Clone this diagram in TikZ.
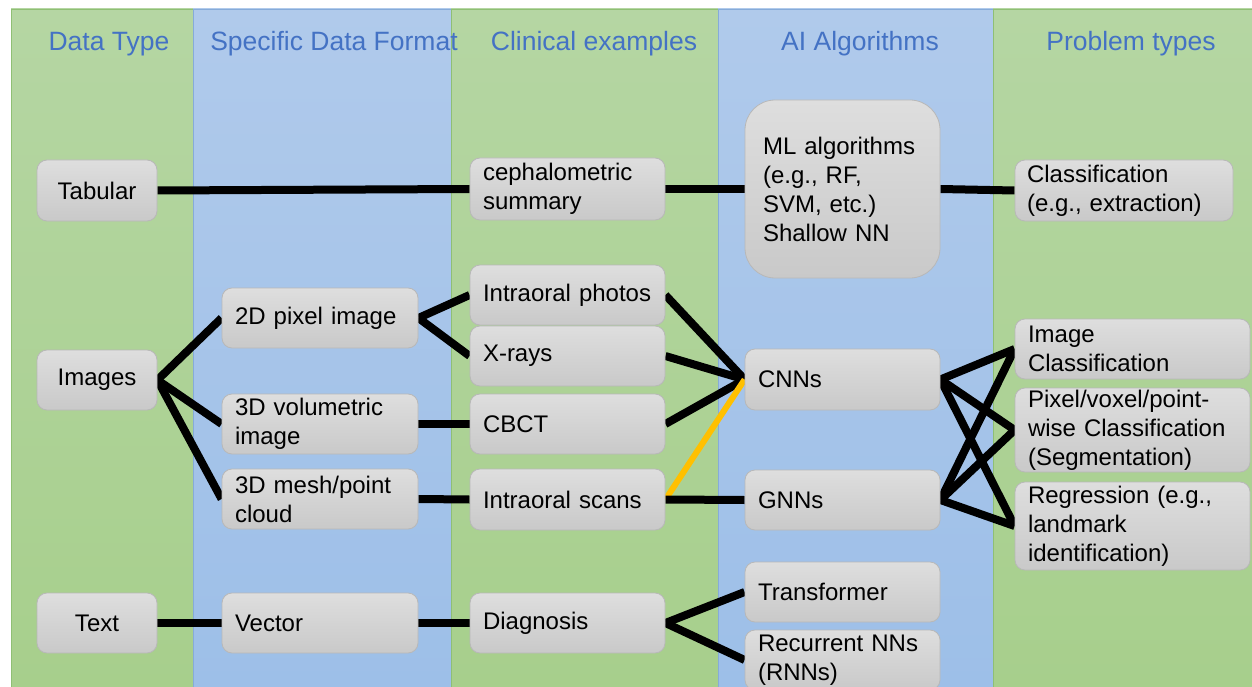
\documentclass[tikz,border=0pt]{standalone}
\usepackage{fontspec}
\setmainfont{Liberation Sans}
\pgfdeclarelayer{bg}
\pgfdeclarelayer{lines}
\pgfsetlayers{bg,lines,main}
\definecolor{gtop}{HTML}{B5D6A3}
\definecolor{gbot}{HTML}{A7CF8C}
\definecolor{gedge}{HTML}{8FBF74}
\definecolor{btop}{HTML}{B0CAEB}
\definecolor{bbot}{HTML}{9DBFE8}
\definecolor{bedge}{HTML}{86ABD9}
\definecolor{hdr}{HTML}{4472C4}
\definecolor{boxtop}{HTML}{DEDEDE}
\definecolor{boxbot}{HTML}{C9C9C9}
\definecolor{boxedge}{HTML}{B8B8B8}
\definecolor{orangeline}{HTML}{FFC000}
\newcommand{\nodefont}{\fontsize{24}{29}\selectfont}
\newcommand{\hdrfont}{\fontsize{26.5}{30}\selectfont}
\tikzset{
 colgreen/.style={top color=gtop,bottom color=gbot,draw=gedge,line width=0.6pt},
 colblue/.style={top color=btop,bottom color=bbot,draw=bedge,line width=0.6pt},
 header/.style={text=hdr,font=\hdrfont,anchor=base,inner sep=0pt},
 box/.style={draw=boxedge,line width=0.8pt,rounded corners=10pt,top color=boxtop,bottom color=boxbot,font=\nodefont,text=black,inner ysep=0pt,inner xsep=13pt,align=left,minimum height=60pt},
 cA/.style={box,text width=94pt,align=center},
 cB/.style={box,text width=170pt},
 cC/.style={box,text width=169pt},
 cD/.style={box,text width=209pt},
 link/.style={line width=8pt,black},
 hilink/.style={line width=6pt,orangeline},
}
\begin{document}
\begin{tikzpicture}[x=1pt,y=-1pt]
\useasboundingbox (0,0) rectangle (1252,687);
\clip (0,0) rectangle (1252,687);
\begin{pgfonlayer}{bg}
\fill[white] (0,0) rectangle (1252,687);
\path[colgreen] (11,9) rectangle (193,688);
\path[colblue] (193,9) rectangle (451,688);
\path[colgreen] (451,9) rectangle (718,688);
\path[colblue] (718,9) rectangle (993,688);
\path[colgreen] (993,9) rectangle (1253,688);
\end{pgfonlayer}
% headers
\node[header] (h1) at (109,51) {Data Type};
\node[header] (h2) at (334,51) {Specific Data Format};
\node[header] (h3) at (594,51) {Clinical examples};
\node[header] (h4) at (860,51) {AI Algorithms};
\node[header] (h5) at (1131,51) {Problem types};
% column 1
\node[cA,minimum height=61pt] (tab) at (97,190.5) {Tabular};
\node[cA] (img) at (97,380) {Images};
\node[cA] (txt) at (97,623) {Text};
% column 2
\node[cB] (px2d) at (320,318) {2D pixel image};
\node[cB] (vol3d) at (320,424) {3D volumetric\\image};
\node[cB] (mesh3d) at (320,499) {3D mesh/point\\cloud};
\node[cB] (vec) at (320,623) {Vector};
% column 3
\node[cC,minimum height=62pt] (ceph) at (567.5,189) {cephalometric\\summary};
\node[cC] (photos) at (567.5,295) {Intraoral photos};
\node[cC] (xray) at (567.5,356) {X-rays};
\node[cC] (cbct) at (567.5,424) {CBCT};
\node[cC,minimum height=61pt] (scans) at (567.5,499.5) {Intraoral scans};
\node[cC] (diag) at (567.5,623) {Diagnosis};
% column 4
\node[box,text width=159pt,inner xsep=18pt,minimum height=178pt,rounded corners=30pt] (ml) at (842.5,189) {ML algorithms\\(e.g., RF,\\SVM, etc.)\\Shallow NN};
\node[cC,minimum height=61pt] (cnn) at (842.5,379.5) {CNNs};
\node[cC] (gnn) at (842.5,500) {GNNs};
\node[cC] (trans) at (842.5,592) {Transformer};
\node[cC] (rnn) at (842.5,660) {Recurrent NNs\\(RNNs)};
% column 5
\node[box,text width=194pt,inner xsep=12pt,minimum height=61pt] (cls) at (1124,190.5) {Classification\\(e.g., extraction)};
\node[cD] (imgcls) at (1132.5,349) {Image\\Classification};
\node[cD,minimum height=84pt] (pix) at (1132.5,430) {Pixel/voxel/point-\\wise Classification\\(Segmentation)};
\node[cD,minimum height=88pt] (reg) at (1132.5,526) {Regression (e.g.,\\landmark\\identification)};
% connectors
\begin{pgfonlayer}{lines}
\draw[link] (tab.east) -- (ceph.west);
\draw[link] (ceph.east) -- (ml.west);
\draw[link] (ml.east) -- (cls.west);
\draw[link] (img.east) -- (px2d.west);
\draw[link] (img.east) -- (vol3d.west);
\draw[link] (img.east) -- (mesh3d.west);
\draw[link] (px2d.east) -- (photos.west);
\draw[link] (px2d.east) -- (xray.west);
\draw[link] (vol3d.east) -- (cbct.west);
\draw[link] (mesh3d.east) -- (scans.west);
\draw[link] (photos.east) -- (cnn.west);
\draw[link] (xray.east) -- (cnn.west);
\draw[link] (cbct.east) -- (cnn.west);
\draw[hilink] (scans.east) -- (cnn.west);
\draw[link] (scans.east) -- (gnn.west);
\draw[link] (cnn.east) -- (imgcls.west);
\draw[link] (cnn.east) -- (pix.west);
\draw[link] (cnn.east) -- (reg.west);
\draw[link] (gnn.east) -- (imgcls.west);
\draw[link] (gnn.east) -- (pix.west);
\draw[link] (gnn.east) -- (reg.west);
\draw[link] (txt.east) -- (vec.west);
\draw[link] (vec.east) -- (diag.west);
\draw[link] (diag.east) -- (trans.west);
\draw[link] (diag.east) -- (rnn.west);
\end{pgfonlayer}
\end{tikzpicture}
\end{document}
